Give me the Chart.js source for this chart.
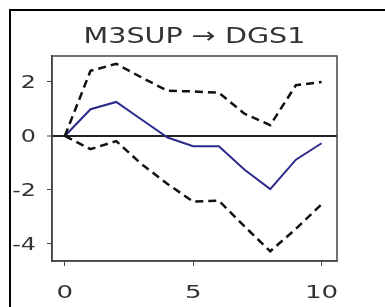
<!DOCTYPE html>
<html>
<head>
<meta charset="utf-8">
<script src="https://cdn.jsdelivr.net/npm/chart.js@4/dist/chart.umd.min.js"></script>
<style>
    body { margin: 0; background: #fff; }
    #box { position: absolute; left: 0; top: 0; width: 385px; height: 307px; }
    #frame { position: absolute; left: 9px; top: 9px; width: 376px; height: 298px;
             border-top: 2px solid #000; border-left: 2px solid #000; pointer-events: none; }
</style>
</head>
<body>
<div id="box">
    <canvas id="myChart" width="385" height="307"></canvas>
    <div id="frame"></div>
</div>
<script>
const periods = [0, 1, 2, 3, 4, 5, 6, 7, 8, 9, 10];
const median = [0, 0.99, 1.26, 0.6, -0.06, -0.38, -0.38, -1.25, -1.97, -0.88, -0.27];
const upperBand = [0, 2.41, 2.67, 2.16, 1.67, 1.65, 1.6, 0.82, 0.4, 1.88, 2.0];
const lowerBand = [0, -0.49, -0.19, -1.05, -1.78, -2.43, -2.4, -3.35, -4.27, -3.44, -2.53];
const xTicks = [0, 5, 10];
const yTicks = [-4, -2, 0, 2];
const chartTitle = 'M3SUP \u2192 DGS1';

function toPoints(values) {
    return periods.map((p, i) => ({x: p, y: values[i]}));
}

// the source picture is stretched sideways, so text is drawn a bit wider
function wideText(c, text, x, y, size, stretch, align) {
    c.save();
    c.font = size + 'px "DejaVu Sans"';
    c.fillStyle = '#333';
    c.textAlign = align;
    c.textBaseline = 'alphabetic';
    c.translate(x, y);
    c.scale(stretch, 1);
    c.fillText(text, 0, 0);
    c.restore();
}

const frameBox = {
    id: 'frameBox',
    afterDraw(chart) {
        const a = chart.chartArea;
        const c = chart.ctx;
        c.save();
        c.strokeStyle = '#444';
        c.lineWidth = 1.5;
        c.strokeRect(a.left, a.top, a.right - a.left, a.bottom - a.top);
        c.restore();

        const xs = chart.scales.x;
        const ys = chart.scales.y;
        for (const v of xTicks) {
            wideText(c, String(v), xs.getPixelForValue(v), a.bottom + 37, 18, 1.45, 'center');
        }
        for (const v of yTicks) {
            wideText(c, String(v), 36, ys.getPixelForValue(v) + 6.5, 17, 1.4, 'right');
        }
        wideText(c, chartTitle, (a.left + a.right) / 2, 43, 22, 1.3, 'center');
    }
};

const ctx = document.getElementById('myChart');

new Chart(ctx, {
    type: 'line',
    data: {
        datasets: [
            {
                data: toPoints(upperBand),
                borderColor: '#111',
                borderWidth: 2.5,
                borderDash: [8, 5],
                pointRadius: 0,
                tension: 0
            },
            {
                data: toPoints(lowerBand),
                borderColor: '#111',
                borderWidth: 2.5,
                borderDash: [8, 5],
                pointRadius: 0,
                tension: 0
            },
            {
                data: toPoints(median),
                borderColor: '#2b2b8c',
                borderWidth: 2,
                pointRadius: 0,
                tension: 0
            }
        ]
    },
    options: {
        responsive: false,
        animation: false,
        layout: {padding: {left: 0, right: 48, top: 56, bottom: 0}},
        plugins: {
            legend: {display: false},
            tooltip: {enabled: false},
            title: {display: false}
        },
        scales: {
            x: {
                type: 'linear',
                min: -0.5,
                max: 10.6,
                afterBuildTicks: (scale) => { scale.ticks = xTicks.map(v => ({value: v})); },
                afterFit: (scale) => { scale.height = 46; },
                grid: {drawOnChartArea: false, tickLength: 5, color: '#444', tickWidth: 1},
                border: {display: true, color: '#444', width: 1.5},
                ticks: {display: false}
            },
            y: {
                type: 'linear',
                min: -4.63,
                max: 2.96,
                afterBuildTicks: (scale) => { scale.ticks = yTicks.map(v => ({value: v})); },
                afterFit: (scale) => { scale.width = 52; },
                grid: {
                    drawOnChartArea: true,
                    tickLength: 5,
                    tickWidth: 1,
                    tickColor: '#444',
                    color: (c) => (c.tick && c.tick.value === 0 ? '#222' : 'rgba(0,0,0,0)'),
                    lineWidth: (c) => (c.tick && c.tick.value === 0 ? 2 : 1)
                },
                border: {display: true, color: '#444', width: 1.5},
                ticks: {display: false}
            }
        }
    },
    plugins: [frameBox]
});
</script>
</body>
</html>
